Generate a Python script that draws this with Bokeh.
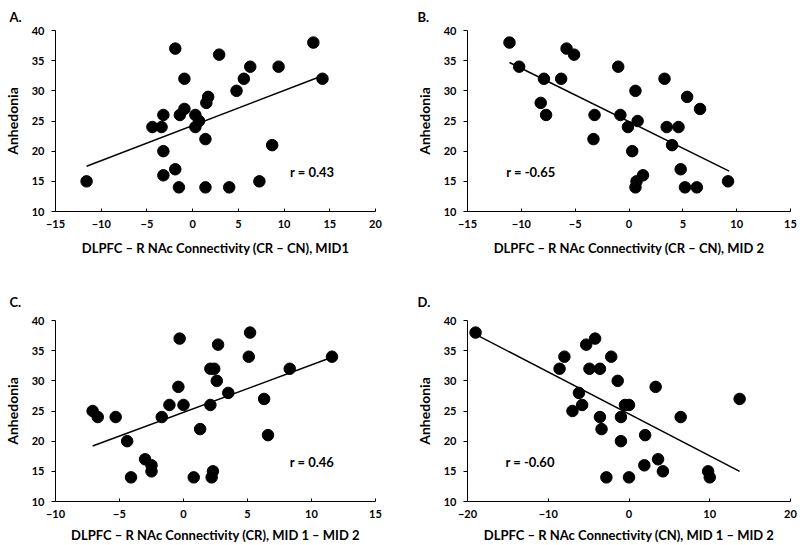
from bokeh.plotting import figure
from bokeh.layouts import column, row
from bokeh.models import Range1d, Label, FixedTicker
from bokeh.embed import file_html
from bokeh.resources import INLINE

# ---------------- data ----------------
A_x = [-11.6, -1.9, 2.9, 13.2, -0.9, 5.6, 6.3, 9.4, 14.2, 4.8, 1.7, 1.5, -0.9, -3.2, -1.4,
       0.3, 0.7, -4.4, -3.4, 0.3, 1.4, 8.7, -3.2, -1.9, -3.2, 7.3, -1.5, 1.4, 4.0]
A_y = [15, 37, 36, 38, 32, 32, 34, 34, 32, 30, 29, 28, 27, 26, 26,
       26, 25, 24, 24, 24, 22, 21, 20, 17, 16, 15, 14, 14, 14]
A_fit_x = [-11.6, 14.2]
A_fit_y = [17.5, 32.5]

B_x = [-11.1, -10.2, -5.8, -5.1, -7.9, -6.3, -8.2, -7.7, -3.2, -3.3, -1.0, 0.6, -0.8, 0.8, -0.1,
       0.3, 0.7, 0.6, 1.3, 3.3, 5.4, 6.6, 3.5, 4.6, 4.0, 4.8, 5.2, 6.3, 9.2]
B_y = [38, 34, 37, 36, 32, 32, 28, 26, 26, 22, 34, 30, 26, 25, 24,
       20, 15, 14, 16, 32, 29, 27, 24, 24, 21, 17, 14, 14, 15]
B_fit_x = [-11.1, 9.3]
B_fit_y = [34.7, 16.7]

C_x = [-7.1, -6.7, -5.3, -4.4, -4.1, -3.0, -2.5, -2.5, -1.7, -1.1, -0.3, -0.4, 0.0, 0.8, 1.3,
       2.1, 2.4, 2.1, 2.6, 2.7, 2.3, 2.2, 3.5, 5.2, 5.1, 6.3, 6.6, 8.3, 11.6]
C_y = [25, 24, 24, 20, 14, 17, 16, 15, 24, 26, 37, 29, 26, 14, 22,
       32, 32, 26, 30, 36, 15, 14, 28, 38, 34, 27, 21, 32, 34]
C_fit_x = [-7.1, 11.6]
C_fit_y = [19.2, 33.9]

D_x = [-19.0, -8.6, -8.0, -5.3, -4.2, -4.9, -3.6, -2.2, -1.4, -6.2, -7.0, -5.8, -3.6, -3.4, -0.5,
       0.0, -1.0, -1.0, -2.8, 0.0, 2.0, 1.9, 3.3, 3.6, 4.2, 6.4, 9.8, 10.0, 13.7]
D_y = [38, 32, 34, 36, 37, 32, 32, 34, 30, 28, 25, 26, 24, 22, 26,
       26, 24, 20, 14, 14, 21, 16, 29, 17, 15, 24, 15, 14, 27]
D_fit_x = [-19.0, 13.7]
D_fit_y = [37.7, 15.0]

panel_letters = ["A.", "B.", "C.", "D."]
x_titles = [
    "DLPFC \u2013 R NAc Connectivity (CR \u2013 CN), MID1",
    "DLPFC \u2013 R NAc Connectivity (CR \u2013 CN), MID 2",
    "DLPFC \u2013 R NAc Connectivity (CR), MID 1 \u2013 MID 2",
    "DLPFC \u2013 R NAc Connectivity (CN), MID 1 \u2013 MID 2",
]
y_title = "Anhedonia"
r_texts = ["r = 0.43", "r = -0.65", "r = 0.46", "r = -0.60"]
r_pos = [(10.65, 16.5), (-11.4, 16.5), (8.3, 16.6), (-15.3, 16.6)]

A_xticks = [-15, -10, -5, 0, 5, 10, 15, 20]
B_xticks = [-15, -10, -5, 0, 5, 10, 15]
C_xticks = [-10, -5, 0, 5, 10, 15]
D_xticks = [-20, -10, 0, 10, 20]
y_ticks = [10, 15, 20, 25, 30, 35, 40]

FONT = "Lato"


def make_panel(xs, ys, fx, fy, xticks, letter, xtitle, rtext, rpos,
               width, height, bl, br, bt, bb, title_offset, title_standoff, xlab_standoff):
    p = figure(width=width, height=height, output_backend="svg", toolbar_location=None,
               x_range=Range1d(xticks[0], xticks[-1]), y_range=Range1d(y_ticks[0], y_ticks[-1]),
               min_border_left=bl, min_border_right=br, min_border_top=bt, min_border_bottom=bb)
    p.outline_line_color = None
    p.xgrid.visible = False
    p.ygrid.visible = False
    p.background_fill_color = "white"

    p.title.text = letter
    p.title.align = "left"
    p.title.offset = title_offset
    p.title.standoff = title_standoff
    p.title.text_font = FONT
    p.title.text_font_size = "13px"
    p.title.text_font_style = "bold"
    p.title.text_color = "black"

    p.xaxis.ticker = FixedTicker(ticks=xticks)
    p.yaxis.ticker = FixedTicker(ticks=y_ticks)
    for ax in (p.xaxis[0], p.yaxis[0]):
        ax.axis_line_color = "black"
        ax.axis_line_width = 1
        ax.major_tick_line_color = "black"
        ax.minor_tick_line_color = None
        ax.major_label_text_font = FONT
        ax.major_label_text_font_size = "11px"
        ax.major_label_text_font_style = "bold"
        ax.major_label_text_color = "black"
        ax.axis_label_text_font = FONT
        ax.axis_label_text_font_style = "bold"
        ax.axis_label_text_color = "black"
    p.xaxis.axis_label_text_font_size = "13px"
    p.yaxis.axis_label_text_font_size = "14px"
    p.xaxis.major_tick_in = 3
    p.xaxis.major_tick_out = 0
    p.xaxis.major_label_standoff = 8
    p.xaxis.axis_label = xtitle
    p.xaxis.axis_label_standoff = xlab_standoff
    p.yaxis.major_tick_in = 0
    p.yaxis.major_tick_out = 4
    p.yaxis.major_label_standoff = 7
    p.yaxis.axis_label = y_title
    p.yaxis.axis_label_standoff = 8

    p.line(fx, fy, line_color="black", line_width=1.5)
    p.scatter(xs, ys, size=11.5, fill_color="black", line_color="black")

    p.add_layout(Label(x=rpos[0], y=rpos[1], text=rtext, text_align="left",
                       text_baseline="middle", text_font=FONT, text_font_size="13px",
                       text_font_style="bold", text_color="black"))
    return p


pA = make_panel(A_x, A_y, A_fit_x, A_fit_y, A_xticks, panel_letters[0], x_titles[0], r_texts[0], r_pos[0],
                408, 272, 51, 33, 30, 61, -46, 11, 9)
pB = make_panel(B_x, B_y, B_fit_x, B_fit_y, B_xticks, panel_letters[1], x_titles[1], r_texts[1], r_pos[1],
                392, 272, 59, 10, 30, 61, -50, 11, 9)
pC = make_panel(C_x, C_y, C_fit_x, C_fit_y, C_xticks, panel_letters[2], x_titles[2], r_texts[2], r_pos[2],
                408, 273, 51, 33, 48, 44, -46, 22, 6)
pD = make_panel(D_x, D_y, D_fit_x, D_fit_y, D_xticks, panel_letters[3], x_titles[3], r_texts[3], r_pos[3],
                392, 273, 59, 10, 48, 44, -50, 22, 6)

layout = column(row(pA, pB), row(pC, pD))

open("out.html", "w").write(file_html(layout, INLINE))
